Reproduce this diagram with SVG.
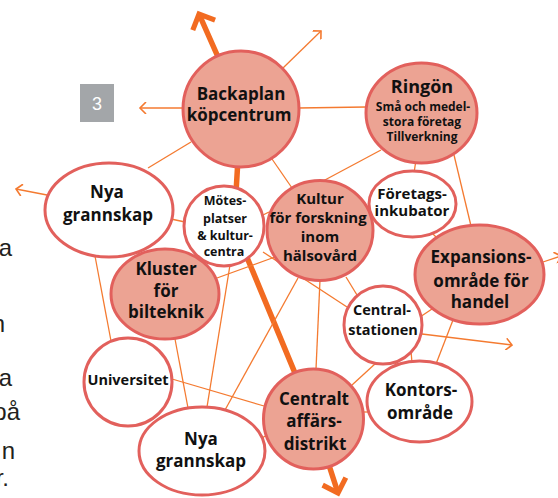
<svg xmlns="http://www.w3.org/2000/svg" width="558" height="498" viewBox="0 0 558 498">
<style>
.n{stroke:#e2605c;stroke-width:3}
.f{fill:#eca393}
.w{fill:#ffffff}
.t{font-family:"Open Sans","Noto Sans",sans-serif;font-weight:700;fill:#111;text-anchor:middle}
.c{stroke:#f47a30;stroke-width:1.3;fill:none}
.ca{stroke:#f47a30;stroke-width:1.3;fill:none;marker-end:url(#ah)}
.frag{font-family:"Liberation Sans",Arial,sans-serif;font-size:24px;fill:#231f20;text-anchor:end}
</style>
<defs>
<marker id="ah" markerWidth="12" markerHeight="12" refX="0" refY="0" viewBox="-8 -6 10 12" markerUnits="userSpaceOnUse" orient="auto">
<path d="M-6,-6 L0,0 L-6,6" fill="none" stroke="#f47a30" stroke-width="1.6"/>
</marker>
<marker id="big" markerWidth="30" markerHeight="30" refX="0" refY="0" viewBox="-18 -16 22 32" markerUnits="userSpaceOnUse" orient="auto-start-reverse">
<path d="M-13,-13 L0,0 L-13,13" fill="none" stroke="#f26b21" stroke-width="5.5"/>
</marker>
</defs>
<rect width="558" height="498" fill="#ffffff"/>
<g id="page-text">
<text class="frag" x="12" y="256">a</text>
<text class="frag" x="5" y="332">n</text>
<text class="frag" x="12" y="386">a</text>
<text class="frag" x="20" y="420">på</text>
<text class="frag" x="15" y="459">n</text>
<text class="frag" x="9" y="486">r.</text>
</g>
<g id="label-3">
<rect x="80" y="84" width="34" height="38" fill="#a3a6a9"/>
<text x="97" y="110" font-family="'Liberation Sans',Arial,sans-serif" font-size="18" fill="#ffffff" text-anchor="middle">3</text>
</g>
<g id="connectors">
<polyline points="199,14 241,109 234,226 314,419 338,493" fill="none" stroke="#f26b21" stroke-width="5.5" marker-start="url(#big)" marker-end="url(#big)"/>
<line class="ca" x1="283" y1="68" x2="321" y2="31"/>
<line class="ca" x1="183" y1="108" x2="140" y2="108"/>
<line class="ca" x1="47" y1="195" x2="16" y2="189"/>
<line class="ca" x1="543" y1="262" x2="561" y2="256"/>
<line class="ca" x1="422" y1="334" x2="512" y2="345"/>
<line class="c" x1="298" y1="108" x2="366" y2="107"/>
<line class="c" x1="191" y1="142" x2="148" y2="168"/>
<line class="c" x1="272" y1="159" x2="292" y2="188"/>
<line class="c" x1="381" y1="150" x2="323" y2="181"/>
<line class="c" x1="416" y1="160" x2="414" y2="173"/>
<line class="c" x1="454" y1="155" x2="471" y2="226"/>
<line class="c" x1="431" y1="232" x2="439" y2="240"/>
<line class="c" x1="420" y1="317" x2="435" y2="307"/>
<line class="c" x1="453" y1="320" x2="436" y2="364"/>
<line class="c" x1="395" y1="360" x2="396" y2="367"/>
<line class="c" x1="411" y1="351" x2="412" y2="363"/>
<line class="c" x1="376" y1="363" x2="352" y2="385"/>
<line class="c" x1="364" y1="412" x2="369" y2="412"/>
<line class="c" x1="320" y1="280" x2="316" y2="369"/>
<line class="c" x1="298" y1="278" x2="225" y2="410"/>
<line class="c" x1="346" y1="277" x2="357" y2="295"/>
<line class="c" x1="263" y1="252" x2="347" y2="307"/>
<line class="c" x1="217" y1="278" x2="275" y2="257"/>
<line class="c" x1="171" y1="219" x2="185" y2="222"/>
<line class="c" x1="263" y1="215" x2="269" y2="212"/>
<line class="c" x1="95" y1="256" x2="111" y2="341"/>
<line class="c" x1="135" y1="249" x2="141" y2="256"/>
<line class="c" x1="230" y1="265" x2="207" y2="407"/>
<line class="c" x1="175" y1="339" x2="188" y2="408"/>
<line class="c" x1="172" y1="379" x2="264" y2="406"/>
<line class="c" x1="262" y1="438" x2="267" y2="435"/>
</g>
<g id="backaplan">
<circle class="n f" cx="241" cy="109" r="58"/>
<text class="t" font-size="17"><tspan x="241" y="100">Backaplan</tspan><tspan x="239" y="121">köpcentrum</tspan></text>
</g>
<g id="ringon">
<ellipse class="n f" cx="421.5" cy="113" rx="55.5" ry="50"/>
<text class="t" font-size="18" x="422" y="93">Ringön</text>
<text class="t" font-size="12"><tspan x="423" y="111">Små och medel-</tspan><tspan x="422" y="126">stora företag</tspan><tspan x="422" y="141">Tillverkning</tspan></text>
</g>
<g id="nya-grannskap-1">
<ellipse class="n w" cx="109" cy="210" rx="64" ry="47"/>
<text class="t" font-size="17"><tspan x="107" y="198">Nya</tspan><tspan x="108" y="221">grannskap</tspan></text>
</g>
<g id="motesplatser">
<circle class="n w" cx="224" cy="226" r="40"/>
<text class="t" font-size="12.5"><tspan x="225" y="205">Mötes-</tspan><tspan x="225" y="223">platser</tspan><tspan x="225" y="240">&amp; kultur-</tspan><tspan x="224" y="256">centra</tspan></text>
</g>
<g id="kultur-forskning">
<ellipse class="n f" cx="320" cy="230.5" rx="53" ry="50"/>
<text class="t" font-size="15"><tspan x="320" y="204">Kultur</tspan><tspan x="318" y="223">för forskning</tspan><tspan x="320" y="242">inom</tspan><tspan x="320" y="261">hälsovård</tspan></text>
</g>
<g id="foretagsinkubator">
<ellipse class="n w" cx="412.5" cy="204" rx="43.5" ry="33"/>
<text class="t" font-size="15"><tspan x="412" y="199">Företags-</tspan><tspan x="412" y="216">inkubator</tspan></text>
</g>
<g id="expansionsomrade">
<ellipse class="n f" cx="479.5" cy="274.5" rx="64.5" ry="49.5"/>
<text class="t" font-size="17"><tspan x="481" y="263">Expansions-</tspan><tspan x="481" y="287">område för</tspan><tspan x="480" y="308">handel</tspan></text>
</g>
<g id="kluster-bilteknik">
<ellipse class="n f" cx="165" cy="294" rx="54" ry="45"/>
<text class="t" font-size="17"><tspan x="166" y="275">Kluster</tspan><tspan x="166" y="297">för</tspan><tspan x="166" y="318">bilteknik</tspan></text>
</g>
<g id="centralstationen">
<circle class="n w" cx="383" cy="325" r="39"/>
<text class="t" font-size="14.5"><tspan x="382" y="315">Central-</tspan><tspan x="383" y="335">stationen</tspan></text>
</g>
<g id="universitet">
<circle class="n w" cx="128" cy="382" r="44"/>
<text class="t" font-size="14.5" x="128" y="385">Universitet</text>
</g>
<g id="centralt-affarsdistrikt">
<circle class="n f" cx="313.5" cy="419" r="50"/>
<text class="t" font-size="17"><tspan x="314" y="405">Centralt</tspan><tspan x="314" y="427">affärs-</tspan><tspan x="315" y="450">distrikt</tspan></text>
</g>
<g id="kontorsomrade">
<ellipse class="n w" cx="419.5" cy="401.5" rx="52.5" ry="40.5"/>
<text class="t" font-size="17"><tspan x="421" y="396">Kontors-</tspan><tspan x="420" y="419">område</tspan></text>
</g>
<g id="nya-grannskap-2">
<ellipse class="n w" cx="202" cy="451" rx="63" ry="44"/>
<text class="t" font-size="17"><tspan x="201" y="445">Nya</tspan><tspan x="201" y="467">grannskap</tspan></text>
</g>
</svg>
